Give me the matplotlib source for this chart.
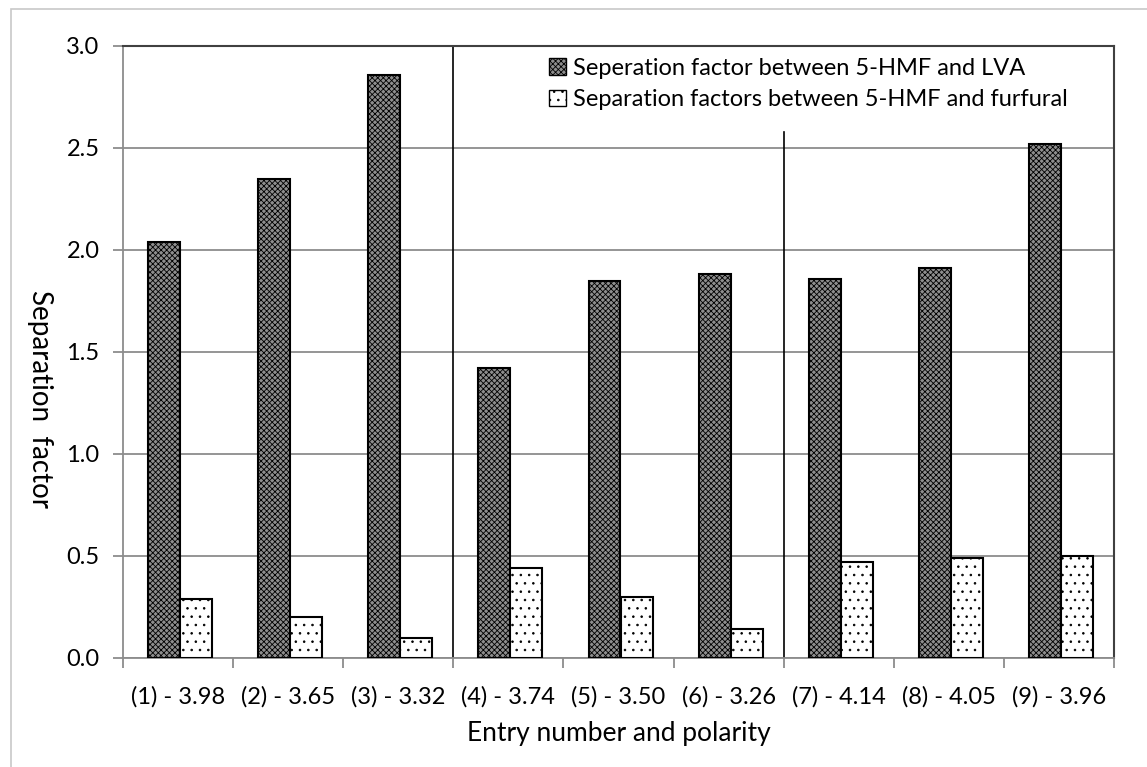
import matplotlib
matplotlib.use("Agg")
import matplotlib.pyplot as plt
from matplotlib.patches import Rectangle, Patch
import numpy as np

categories = ["(1) - 3.98", "(2) - 3.65", "(3) - 3.32", "(4) - 3.74", "(5) - 3.50",
              "(6) - 3.26", "(7) - 4.14", "(8) - 4.05", "(9) - 3.96"]
lva_values = [2.04, 2.35, 2.86, 1.42, 1.85, 1.88, 1.86, 1.91, 2.52]
furfural_values = [0.29, 0.20, 0.10, 0.44, 0.30, 0.14, 0.47, 0.49, 0.50]
series_names = ["Seperation factor between 5-HMF and LVA",
                "Separation factors between 5-HMF and furfural"]
yticks = [0.0, 0.5, 1.0, 1.5, 2.0, 2.5, 3.0]

plt.rcParams['font.family'] = ['Lato', 'DejaVu Sans']
plt.rcParams['hatch.linewidth'] = 0.6

W, H = 1147, 767
fig = plt.figure(figsize=(W / 100, H / 100), dpi=100)
ax = fig.add_axes([123 / W, 1 - 658 / H, (1114 - 123) / W, (658 - 46) / H])

# figure border
fig.patches.append(Rectangle((11 / W, -0.1), 1.2, 1 - 9 / H + 0.1, transform=fig.transFigure,
                             fill=False, edgecolor='#c8c8c8', linewidth=1.2, zorder=0))

dark_face = '#8e8e8e'
x = np.arange(len(categories))
bw = 0.29
b1 = ax.bar(x - 0.127, lva_values, bw, facecolor=dark_face, edgecolor='black',
            hatch='xxxxxx', linewidth=1.5, zorder=3)
b2 = ax.bar(x + 0.164, furfural_values, bw, facecolor='white', edgecolor='black',
            hatch='..', linewidth=1.5, zorder=3)
for p in b1:
    if hasattr(p, 'set_hatch_color'):
        p.set_hatch_color('#d0d0d0')
for p in b2:
    if hasattr(p, 'set_hatch_color'):
        p.set_hatch_color('#333333')
for p in list(b1) + list(b2):
    p.set_edgecolor('black')

ax.set_xlim(-0.5, len(categories) - 0.5)
ax.set_ylim(0, 3.0)
ax.set_yticks(yticks)
ax.set_yticklabels([f"{v:.1f}" for v in yticks])
ax.yaxis.grid(True, color='#8c8c8c', linewidth=1.3, zorder=0)
ax.set_axisbelow(True)

ax.set_xticks(x)
ax.set_xticklabels(categories)
ax.set_xticks(np.arange(-0.5, len(categories) + 0.5, 1), minor=True)
ax.tick_params(axis='x', which='major', length=0, pad=20, labelsize=17)
ax.tick_params(axis='x', which='minor', length=7, width=1.3, color='#8c8c8c', direction='out')
ax.tick_params(axis='y', length=7, width=1.3, color='#8c8c8c', pad=10, labelsize=17)

for s in ['left', 'bottom']:
    ax.spines[s].set_color('#8c8c8c')
    ax.spines[s].set_linewidth(1.3)
for s in ['top', 'right']:
    ax.spines[s].set_color('#404040')
    ax.spines[s].set_linewidth(1.5)

# separator lines
ax.plot([2.5, 2.5], [0, 3.0], color='black', linewidth=1.2, zorder=2)
ax.plot([5.5, 5.5], [0, 2.58], color='black', linewidth=1.2, zorder=2)

fig.text(40 / W, 1 - 399 / H, "Separation  factor", rotation=270, fontsize=20,
         ha='center', va='center')
ax.set_xlabel("Entry number and polarity", fontsize=19, labelpad=10)

handles = [Patch(facecolor=dark_face, edgecolor='black', hatch='xxxxxx', linewidth=1.0),
           Patch(facecolor='white', edgecolor='black', hatch='..', linewidth=1.0)]
leg = ax.legend(handles, series_names, loc='upper left', bbox_to_anchor=(0.418, 1.0),
                frameon=False, fontsize=17, handlelength=0.7, handleheight=0.7,
                handletextpad=0.3, labelspacing=0.45, borderaxespad=0.1)

fig.savefig("out.png", dpi=100)
